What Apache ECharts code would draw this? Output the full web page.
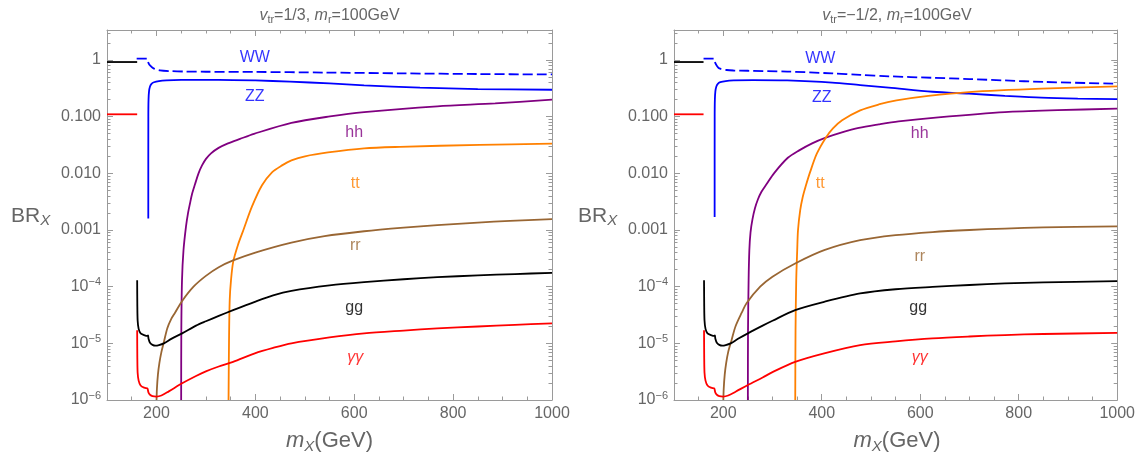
<!DOCTYPE html>
<html><head><meta charset="utf-8">
<script src="https://cdn.jsdelivr.net/npm/echarts@6/dist/echarts.min.js"></script>
<style>html,body{margin:0;padding:0;background:#fff}#c{width:1138px;height:457px}</style>
</head><body><div id="c"></div>
<script>
// ---------- axes ----------
const xMin = 100, xMax = 1000;
const yMin = 1e-6, yMax = 3.38;
const xMajorTicks = [200, 400, 600, 800, 1000];
const xMinorTicks = [150, 250, 300, 350, 450, 500, 550, 650, 700, 750, 850, 900, 950];
const yMajorTicks = [1e-6, 1e-5, 1e-4, 1e-3, 1e-2, 1e-1, 1];
const yTickLabels = {'0': '1', '-1': '0.100', '-2': '0.010', '-3': '0.001', '-4': '10{s|\u22124}', '-5': '10{s|\u22125}', '-6': '10{s|\u22126}'};
const panelTitles = [['1/3', '100GeV'], ['\u22121/2', '100GeV']];

// ---------- panel A : v_tr = 1/3 ----------
const lowBlackA = [[100, 0.92], [161, 0.92]];
const lowRedA = [[100, 0.11], [161, 0.11]];
const wwA = [[160,1.06],[181,1.06],[182,1.0],[184,0.88],[187,0.8],[194,0.71],[207,0.655],[230,0.635],[260,0.625],[300,0.62],[400,0.615],[540,0.6],[700,0.58],[850,0.565],[1000,0.555]];
const zzA = [[183.5,0.0016],[183.6,0.1],[184,0.2],[185,0.28],[187,0.34],[190,0.38],[195,0.405],[205,0.425],[220,0.437],[250,0.445],[326,0.447],[400,0.435],[470,0.415],[550,0.385],[620,0.357],[733,0.325],[850,0.307],[1000,0.298]];
const hhA = [[250,1e-6],[250.3,1.7e-5],[251.7,1.3e-4],[254.7,4.4e-4],[259.8,1.16e-3],[263.8,1.97e-3],[267.9,2.96e-3],[271.9,4.27e-3],[278,6.4e-3],[285.1,0.01],[292.2,0.0138],[300.2,0.018],[310.4,0.0225],[325.7,0.0281],[344.7,0.0338],[369,0.0405],[397.3,0.0497],[473,0.0776],[551,0.101],[620,0.12],[768,0.152],[885,0.171],[1000,0.199]];
const ttA = [[345.8,1e-6],[346.8,1.14e-5],[348.2,5.8e-5],[350.8,1.3e-4],[355.3,2.76e-4],[365,5.5e-4],[375.9,1.0e-3],[393.3,2.6e-3],[413.5,6.15e-3],[433.7,0.0104],[454,0.0138],[473,0.0169],[500.5,0.02],[547,0.0234],[620,0.0276],[692.6,0.0293],[854,0.0318],[1000,0.0334]];
const rrA = [[200.2,1e-6],[201,1.6e-6],[203,2.8e-6],[206,4.5e-6],[210,7e-6],[215,1.05e-5],[222,1.85e-5],[230,2.7e-5],[237,3.4e-5],[252,5.6e-5],[275,1e-4],[300,1.55e-4],[326,2.2e-4],[355,2.9e-4],[400,4e-4],[473,6e-4],[540,7.8e-4],[620,9.5e-4],[700,1.1e-3],[768,1.22e-3],[850,1.35e-3],[915,1.45e-3],[1000,1.55e-3]];
const ggA = [[161,1.3e-4],[161.3,5e-5],[162,2.5e-5],[164,1.8e-5],[168,1.5e-5],[175,1.4e-5],[182,1.35e-5],[183,1.38e-5],[184,1.2e-5],[187,1.02e-5],[192,9.4e-6],[198,9.1e-6],[205,9.3e-6],[215,1.0e-5],[230,1.2e-5],[252,1.5e-5],[280,2.05e-5],[300,2.45e-5],[326,3.05e-5],[355,3.85e-5],[399,5.4e-5],[436,7e-5],[473,8.4e-5],[550,1.05e-4],[620,1.2e-4],[700,1.35e-4],[768,1.47e-4],[850,1.58e-4],[925,1.67e-4],[1000,1.75e-4]];
const yyA = [[161,1.7e-5],[161.3,6e-6],[162,3e-6],[164,2.2e-6],[168,1.8e-6],[175,1.65e-6],[182,1.6e-6],[183,1.6e-6],[184,1.35e-6],[187,1.24e-6],[192,1.17e-6],[200,1.15e-6],[210,1.2e-6],[225,1.42e-6],[252,1.97e-6],[280,2.65e-6],[300,3.2e-6],[326,3.9e-6],[355,4.7e-6],[399,6.65e-6],[436,8.3e-6],[473,1e-5],[550,1.27e-5],[620,1.5e-5],[700,1.68e-5],[768,1.83e-5],[850,1.98e-5],[925,2.12e-5],[1000,2.25e-5]];
const labelsA = [['WW',399,1.085],['ZZ',399,0.227],['hh',600,0.0528],['tt',602,0.00667],['rr',602,5.3e-4],['gg',600,4.2e-5],['\u03b3\u03b3',602,5.7e-6]];

// ---------- panel B : v_tr = -1/2 ----------
const lowBlackB = [[100, 0.92], [160, 0.92]];
const lowRedB = [[100, 0.11], [160, 0.11]];
const wwB = [[160,1.06],[181,1.06],[182,1.0],[184,0.88],[187,0.79],[192,0.71],[207,0.665],[221,0.652],[250,0.645],[330,0.625],[421,0.58],[478,0.545],[536,0.515],[625,0.485],[700,0.46],[772,0.435],[850,0.41],[1000,0.38]];
const zzB = [[182.5,0.0017],[182.6,0.1],[183,0.2],[184,0.28],[186,0.34],[189,0.38],[194,0.405],[205,0.425],[221,0.435],[260,0.442],[330,0.435],[421,0.4],[478,0.36],[536,0.325],[625,0.275],[699,0.254],[772,0.233],[846,0.216],[920,0.208],[1000,0.204]];
const hhB = [[250,1e-6],[250.3,1.7e-5],[251.5,1.3e-4],[253,4.4e-4],[255.4,9.1e-4],[259.4,1.55e-3],[264.4,2.41e-3],[270.5,3.48e-3],[277.6,4.72e-3],[287,6.27e-3],[303.8,0.0102],[331.2,0.0188],[354.2,0.0254],[380.5,0.0338],[408.3,0.0426],[441,0.0528],[475.3,0.0634],[515.7,0.073],[556,0.0824],[636.7,0.097],[771.9,0.12],[878.9,0.13],[1000,0.138]];
const ttB = [[346.2,1e-6],[346.8,1.7e-5],[348.2,1.3e-4],[350.2,4.4e-4],[351.8,9.9e-4],[356.3,2.23e-3],[361.3,3.78e-3],[368,6.15e-3],[376.5,0.0106],[390,0.0222],[408.3,0.0426],[422.8,0.062],[441.4,0.086],[478.1,0.129],[515.7,0.164],[551.8,0.193],[616.5,0.232],[698.7,0.271],[845.8,0.311],[1000,0.341]];
const rrB = [[200.2,1e-6],[201,1.6e-6],[203,2.8e-6],[206,4.5e-6],[210,7e-6],[217,1.15e-5],[225,2e-5],[237,3.4e-5],[248,5.2e-5],[275,1e-4],[300,1.5e-4],[346,2.56e-4],[405,4.4e-4],[478,6.6e-4],[550,8.1e-4],[625,9.2e-4],[700,1.0e-3],[772,1.06e-3],[850,1.11e-3],[1000,1.16e-3]];
const ggB = [[161,1.3e-4],[161.3,5e-5],[162,2.5e-5],[164,1.8e-5],[168,1.5e-5],[175,1.4e-5],[182,1.35e-5],[183,1.38e-5],[184,1.2e-5],[187,1.02e-5],[192,9.4e-6],[198,9.1e-6],[205,9.3e-6],[215,1.0e-5],[230,1.2e-5],[250,1.5e-5],[280,2.05e-5],[300,2.5e-5],[346,3.85e-5],[405,5.4e-5],[478,7.6e-5],[550,9e-5],[625,9.9e-5],[700,1.07e-4],[772,1.14e-4],[850,1.19e-4],[1000,1.25e-4]];
const yyB = [[161,1.7e-5],[161.3,6e-6],[162,3e-6],[164,2.2e-6],[168,1.8e-6],[175,1.65e-6],[182,1.6e-6],[183,1.6e-6],[184,1.35e-6],[187,1.24e-6],[192,1.17e-6],[200,1.15e-6],[210,1.2e-6],[225,1.4e-6],[250,1.84e-6],[280,2.5e-6],[300,3.1e-6],[346,4.7e-6],[405,6.65e-6],[478,9.3e-6],[550,1.08e-5],[625,1.22e-5],[700,1.32e-5],[772,1.4e-5],[850,1.46e-5],[1000,1.53e-5]];
const labelsB = [['WW',397,1.05],['ZZ',400,0.218],['hh',599,0.0508],['tt',397,0.0067],['rr',599,3.35e-4],['gg',596,4.2e-5],['\u03b3\u03b3',599,5.5e-6]];

// ---------- styles ----------
const FONT = '"Liberation Sans", Arial, Helvetica, sans-serif';
const FRAME = '#9a9a9a';
const LABEL = '#666666';
const COL = {WW:'#0000ff', ZZ:'#0000ff', hh:'#800080', tt:'#ff8000', rr:'#996633', gg:'#000000', '\u03b3\u03b3':'#ff0000'};

const yMinorTicks = [];
yMajorTicks.forEach(d => { for (let k = 2; k <= 9; k++) { const v = d * k; if (v < yMax) yMinorTicks.push(v); } });

const grids = [
  {left: 107, top: 30, width: 445, height: 370},
  {left: 674, top: 30, width: 446, height: 370}
];

function xAxes(g) {
  const base = {gridIndex: g, type: 'value', min: xMin, max: xMax, splitLine: {show: false}};
  const line = {show: true, onZero: false, lineStyle: {color: FRAME, width: 1}};
  const tk = (vals, len) => ({show: true, inside: true, length: len, customValues: vals, lineStyle: {color: FRAME, width: 1}});
  return [
    Object.assign({}, base, {position: 'bottom', axisLine: line, axisTick: tk(xMajorTicks, 6),
      axisLabel: {show: true, customValues: xMajorTicks, color: LABEL, fontSize: 16, fontFamily: FONT, margin: 6,
        formatter: v => String(v)}}),
    Object.assign({}, base, {position: 'bottom', axisLine: {show: false}, axisTick: tk(xMinorTicks, 3.5), axisLabel: {show: false}}),
    Object.assign({}, base, {position: 'top', axisLine: line, axisTick: tk(xMajorTicks, 6), axisLabel: {show: false}}),
    Object.assign({}, base, {position: 'top', axisLine: {show: false}, axisTick: tk(xMinorTicks, 3.5), axisLabel: {show: false}})
  ];
}
function yAxes(g) {
  const base = {gridIndex: g, type: 'log', logBase: 10, min: yMin, max: yMax, splitLine: {show: false}};
  const line = {show: true, onZero: false, lineStyle: {color: FRAME, width: 1}};
  const tk = (vals, len) => ({show: true, inside: true, length: len, customValues: vals, lineStyle: {color: FRAME, width: 1}});
  return [
    Object.assign({}, base, {position: 'left', axisLine: line, axisTick: tk(yMajorTicks, 6),
      axisLabel: {show: true, customValues: yMajorTicks, color: LABEL, fontSize: 16, fontFamily: FONT, margin: 6, lineHeight: 20,
        formatter: v => yTickLabels[String(Math.round(Math.log10(v)))] || '',
        rich: {s: {fontSize: 11, lineHeight: 11, verticalAlign: 'top', color: LABEL, fontFamily: FONT}}}}),
    Object.assign({}, base, {position: 'left', axisLine: {show: false}, axisTick: tk(yMinorTicks, 3.5), axisLabel: {show: false}}),
    Object.assign({}, base, {position: 'right', axisLine: line, axisTick: tk(yMajorTicks, 6), axisLabel: {show: false}}),
    Object.assign({}, base, {position: 'right', axisLine: {show: false}, axisTick: tk(yMinorTicks, 3.5), axisLabel: {show: false}})
  ];
}

function lineSeries(data, color, g, dashed) {
  return {type: 'line', xAxisIndex: g * 4, yAxisIndex: g * 4, data: data, symbol: 'none', showSymbol: false,
    smooth: 0.3, silent: true, animation: false, z: 3,
    lineStyle: {color: color, width: 1.8, type: dashed ? [10, 4] : 'solid'}};
}
function labelSeries(items, g) {
  return {type: 'scatter', xAxisIndex: g * 4, yAxisIndex: g * 4, symbol: 'circle', symbolSize: 0, silent: true, animation: false, z: 5,
    data: items.map(it => ({value: [it[1], it[2]],
      label: {show: true, position: 'inside', formatter: it[0], color: COL[it[0]], fontSize: 16, fontFamily: FONT,
        fontStyle: it[0] === '\u03b3\u03b3' ? 'italic' : 'normal'}}))};
}

const panels = [
  {lowBlack: lowBlackA, lowRed: lowRedA, ww: wwA, zz: zzA, hh: hhA, tt: ttA, rr: rrA, gg: ggA, yy: yyA, labels: labelsA},
  {lowBlack: lowBlackB, lowRed: lowRedB, ww: wwB, zz: zzB, hh: hhB, tt: ttB, rr: rrB, gg: ggB, yy: yyB, labels: labelsB}
];

const series = [];
panels.forEach((p, g) => {
  series.push(lineSeries(p.lowBlack, '#000000', g));
  series.push(lineSeries(p.lowRed, '#ff0000', g));
  series.push(lineSeries(p.ww, COL.WW, g, true));
  series.push(lineSeries(p.zz, COL.ZZ, g));
  series.push(lineSeries(p.hh, COL.hh, g));
  series.push(lineSeries(p.tt, COL.tt, g));
  series.push(lineSeries(p.rr, COL.rr, g));
  series.push(lineSeries(p.gg, COL.gg, g));
  series.push(lineSeries(p.yy, COL['\u03b3\u03b3'], g));
  series.push(labelSeries(p.labels, g));
});

const graphics = [];
grids.forEach((gr, g) => {
  const cx = gr.left + gr.width / 2;
  graphics.push({type: 'text', x: cx, y: 16, silent: true, style: {
    text: '{i|v}{s|tr}{n|=' + panelTitles[g][0] + ', }{i|m}{s|r}{n|=' + panelTitles[g][1] + '}',
    align: 'center', verticalAlign: 'middle',
    rich: {
      i: {fontSize: 16, fontStyle: 'italic', fontFamily: FONT, fill: LABEL, lineHeight: 19},
      n: {fontSize: 16, fontFamily: FONT, fill: LABEL, lineHeight: 19},
      s: {fontSize: 11, fontFamily: FONT, fill: LABEL, lineHeight: 11, verticalAlign: 'bottom'}
    }}});
  graphics.push({type: 'text', x: cx, y: 441, silent: true, style: {
    text: '{i|m}{s|X}{n|(GeV)}', align: 'center', verticalAlign: 'middle',
    rich: {
      i: {fontSize: 22, fontStyle: 'italic', fontFamily: FONT, fill: LABEL, lineHeight: 26},
      n: {fontSize: 22, fontFamily: FONT, fill: LABEL, lineHeight: 26},
      s: {fontSize: 15, fontStyle: 'italic', fontFamily: FONT, fill: LABEL, lineHeight: 15, verticalAlign: 'bottom'}
    }}});
  graphics.push({type: 'text', x: gr.left - 96, y: 216, silent: true, style: {
    text: '{n|BR}{s|X}', align: 'left', verticalAlign: 'middle',
    rich: {
      n: {fontSize: 21, fontFamily: FONT, fill: LABEL, lineHeight: 25},
      s: {fontSize: 15, fontStyle: 'italic', fontFamily: FONT, fill: LABEL, lineHeight: 15, verticalAlign: 'bottom'}
    }}});
});

const chart = echarts.init(document.getElementById('c'), null, {renderer: 'canvas'});
chart.setOption({
  animation: false,
  backgroundColor: '#ffffff',
  grid: grids,
  xAxis: xAxes(0).concat(xAxes(1)),
  yAxis: yAxes(0).concat(yAxes(1)),
  series: series,
  graphic: graphics
});
</script>
</body></html>
